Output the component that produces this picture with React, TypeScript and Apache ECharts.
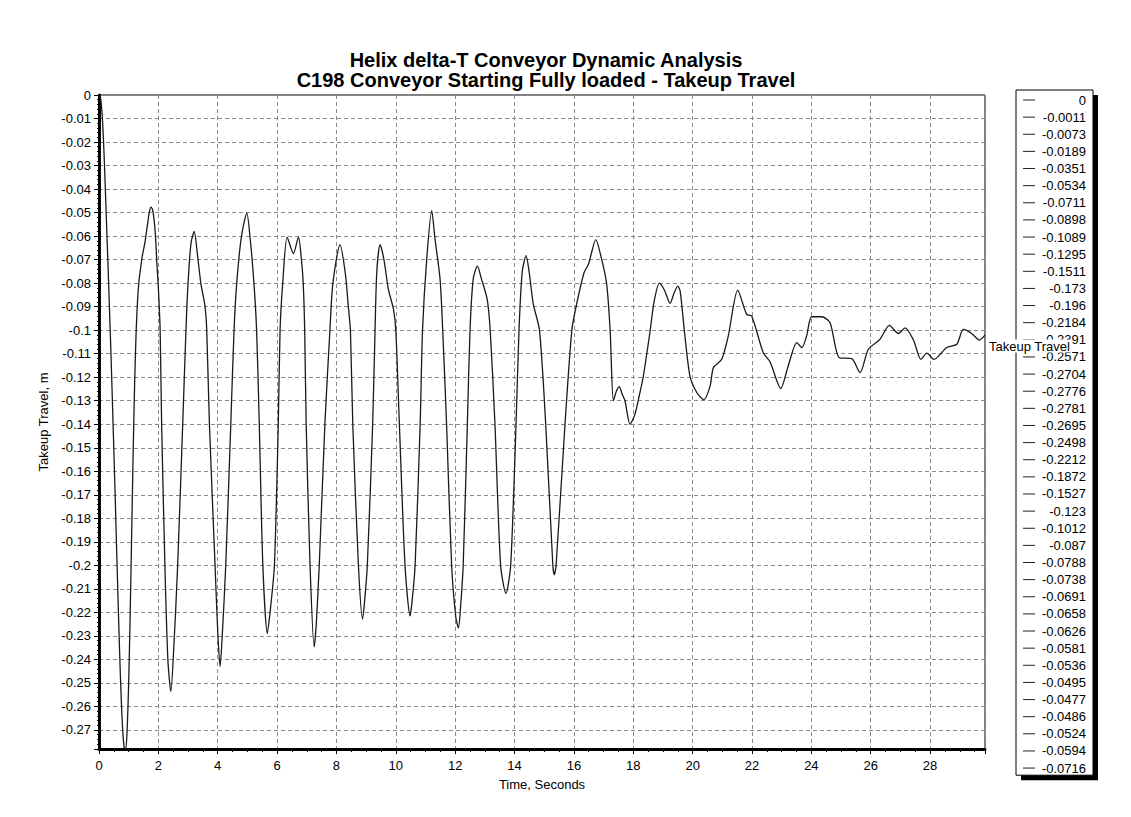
import { useEffect, useRef } from 'react';
import * as echarts from 'echarts';

const titleLines = [
  'Helix delta-T Conveyor Dynamic Analysis',
  'C198 Conveyor Starting Fully loaded - Takeup Travel',
];
const xAxisName = 'Time, Seconds';
const yAxisName = 'Takeup Travel, m';
const seriesName = 'Takeup Travel';

// first 40 samples (also listed in the legend box)
const headTimes = [
  0, 0.05, 0.1, 0.15, 0.2, 0.25, 0.3, 0.35, 0.4, 0.45,
  0.5, 0.55, 0.6, 0.65, 0.7, 0.75, 0.8, 0.85, 0.9, 0.95,
  1.0, 1.05, 1.1, 1.15, 1.2, 1.25, 1.3, 1.35, 1.4, 1.45,
  1.5, 1.55, 1.6, 1.65, 1.7, 1.75, 1.8, 1.85, 1.9, 1.95,
];
const headValues = [
  0, -0.0011, -0.0073, -0.0189, -0.0351, -0.0534, -0.0711, -0.0898, -0.1089, -0.1295,
  -0.1511, -0.173, -0.196, -0.2184, -0.2391, -0.2571, -0.2704, -0.2776, -0.2781, -0.2695,
  -0.2498, -0.2212, -0.1872, -0.1527, -0.123, -0.1012, -0.087, -0.0788, -0.0738, -0.0691,
  -0.0658, -0.0626, -0.0581, -0.0536, -0.0495, -0.0477, -0.0486, -0.0524, -0.0594, -0.0716,
];

// remaining curve: [time s, travel m]
const tailPoints: [number, number][] = [
  [2.0, -0.082], [2.06, -0.1], [2.11, -0.14], [2.22, -0.2], [2.32, -0.24], [2.42, -0.2537],
  [2.52, -0.235], [2.65, -0.2], [2.82, -0.14], [2.93, -0.1], [3.0, -0.08], [3.1, -0.063],
  [3.21, -0.058], [3.3, -0.066], [3.43, -0.08], [3.57, -0.0898], [3.63, -0.1], [3.72, -0.14],
  [3.91, -0.2], [4.0, -0.228], [4.08, -0.2431], [4.16, -0.228], [4.27, -0.2], [4.44, -0.14],
  [4.55, -0.1], [4.64, -0.08], [4.8, -0.06], [4.98, -0.0502], [5.1, -0.062], [5.22, -0.08],
  [5.31, -0.1], [5.4, -0.14], [5.52, -0.2], [5.67, -0.229], [5.78, -0.218], [5.91, -0.2],
  [6.04, -0.14], [6.1, -0.1], [6.19, -0.08], [6.34, -0.0604], [6.55, -0.0674], [6.72, -0.0604],
  [6.82, -0.07], [6.88, -0.08], [6.93, -0.1], [6.98, -0.14], [7.11, -0.2], [7.25, -0.2347],
  [7.32, -0.225], [7.42, -0.2], [7.61, -0.14], [7.78, -0.1], [7.88, -0.08], [8.12, -0.0636],
  [8.3, -0.076], [8.4, -0.09], [8.47, -0.1], [8.55, -0.14], [8.74, -0.2], [8.88, -0.2229],
  [8.95, -0.215], [9.04, -0.2], [9.22, -0.14], [9.3, -0.1], [9.36, -0.075], [9.47, -0.0636],
  [9.6, -0.07], [9.75, -0.0827], [9.92, -0.091], [10.0, -0.1], [10.12, -0.14], [10.31, -0.2],
  [10.48, -0.2215], [10.55, -0.215], [10.65, -0.2], [10.82, -0.14], [10.9, -0.1], [11.04, -0.07],
  [11.21, -0.0492], [11.32, -0.0612], [11.49, -0.0782], [11.58, -0.1], [11.71, -0.14], [11.88, -0.2],
  [12.02, -0.222], [12.11, -0.2266], [12.18, -0.218], [12.27, -0.2], [12.41, -0.14], [12.5, -0.1],
  [12.61, -0.078], [12.75, -0.0728], [12.88, -0.078], [13.08, -0.087], [13.18, -0.1], [13.34, -0.14],
  [13.53, -0.2], [13.71, -0.212], [13.87, -0.2], [14.05, -0.14], [14.15, -0.1], [14.26, -0.075],
  [14.39, -0.0683], [14.5, -0.076], [14.63, -0.0888], [14.84, -0.1], [15.05, -0.14], [15.29, -0.2],
  [15.34, -0.204], [15.4, -0.2], [15.7, -0.14], [15.93, -0.1], [16.09, -0.089], [16.34, -0.0756],
  [16.49, -0.072], [16.74, -0.0615], [16.9, -0.068], [17.1, -0.08], [17.22, -0.1], [17.33, -0.13],
  [17.43, -0.126], [17.53, -0.124], [17.62, -0.127], [17.72, -0.13], [17.89, -0.14], [18.05, -0.136],
  [18.2, -0.128], [18.34, -0.1195], [18.56, -0.101], [18.7, -0.088], [18.88, -0.08], [19.05, -0.083],
  [19.24, -0.0886], [19.38, -0.084], [19.5, -0.0813], [19.58, -0.0834], [19.74, -0.1025], [19.91, -0.1195],
  [20.14, -0.1265], [20.38, -0.1296], [20.59, -0.1237], [20.7, -0.1159], [20.98, -0.1124], [21.2, -0.1025],
  [21.52, -0.083], [21.82, -0.0933], [21.99, -0.094], [22.38, -0.1096], [22.61, -0.1135], [22.97, -0.1248],
  [23.22, -0.1152], [23.51, -0.1053], [23.68, -0.1074], [23.84, -0.1025], [24.01, -0.0943], [24.35, -0.0943],
  [24.63, -0.0968], [24.94, -0.1117], [25.36, -0.1121], [25.64, -0.118], [25.92, -0.1081], [26.31, -0.1039],
  [26.63, -0.098], [26.93, -0.1014], [27.16, -0.099], [27.44, -0.1042], [27.69, -0.1124], [27.89, -0.1098],
  [28.13, -0.1124], [28.56, -0.1074], [28.9, -0.106], [29.12, -0.0997], [29.4, -0.1014], [29.66, -0.1042],
  [29.85, -0.1021],
];

const X_MIN = 0;
const X_MAX = 29.85;
const X_INTERVAL = 2;
const Y_DEPTH_MAX = 0.2781; // deepest travel (axis bottom)
const Y_INTERVAL = 0.01;

const FONT = '"Liberation Sans", Arial, sans-serif';

export default function App() {
  const ref = useRef<HTMLDivElement>(null);

  useEffect(() => {
    document.body.style.margin = '0';
    if (!ref.current) return;
    const chart = echarts.init(ref.current, null, { renderer: 'svg' });

    const points: [number, number][] = [
      ...headTimes.map((t, i) => [t, headValues[i]] as [number, number]),
      ...tailPoints,
    ];
    // plotted as depth on an inverted axis so ticks start at 0
    const data = points.map(([t, v]) => [t, -v]);

    const legendTop = 90;
    const legendLeft = 1016;
    const legendW = 77;
    const rowH = 17.13;
    const legendH = headValues.length * rowH;

    const legendChildren: any[] = [
      { type: 'rect', shape: { x: legendLeft + 5, y: legendTop + 5, width: legendW, height: legendH }, style: { fill: '#000' }, z: 1 },
      { type: 'rect', shape: { x: legendLeft, y: legendTop, width: legendW, height: legendH }, style: { fill: '#fff', stroke: '#000', lineWidth: 1 }, z: 1 },
    ];
    headValues.forEach((v, i) => {
      const y = legendTop + 10 + i * rowH;
      legendChildren.push({
        type: 'line',
        shape: { x1: legendLeft + 7, y1: y, x2: legendLeft + 19, y2: y },
        style: { stroke: '#222', lineWidth: 1 },
        z: 1,
      });
      legendChildren.push({
        type: 'text',
        x: legendLeft + 70,
        y,
        style: { text: String(v), align: 'right', verticalAlign: 'middle', fontSize: 13, fontFamily: FONT, fill: '#000' },
        z: 1,
      });
    });

    chart.setOption({
      animation: false,
      backgroundColor: '#fff',
      title: {
        text: titleLines.join('\n'),
        left: 541,
        top: 45,
        textAlign: 'center',
        textStyle: { fontSize: 20, fontWeight: 'bold', fontFamily: FONT, color: '#000', lineHeight: 20 },
      },
      grid: {
        left: 99,
        right: 146,
        top: 95,
        bottom: 68,
        show: true,
        borderColor: '#000',
        borderWidth: 1,
        backgroundColor: '#fff',
      },
      xAxis: {
        type: 'value',
        min: X_MIN,
        max: X_MAX,
        interval: X_INTERVAL,
        name: xAxisName,
        nameLocation: 'middle',
        nameGap: 29,
        nameTextStyle: { fontSize: 13, fontFamily: FONT, color: '#000' },
        axisLine: { onZero: false, lineStyle: { color: '#000', width: 3 } },
        axisTick: { show: true, length: 5, lineStyle: { color: '#000' } },
        minorTick: { show: true, splitNumber: 4, length: 3, lineStyle: { color: '#000' } },
        axisLabel: { showMaxLabel: false, margin: 10, fontSize: 13, fontFamily: FONT, color: '#000' },
        splitLine: { show: true, lineStyle: { color: '#8a8a8a', type: [4, 3], width: 1 } },
      },
      yAxis: {
        type: 'value',
        inverse: true,
        min: 0,
        max: Y_DEPTH_MAX,
        interval: Y_INTERVAL,
        name: yAxisName,
        nameLocation: 'middle',
        nameGap: 40,
        nameTextStyle: { fontSize: 13, fontFamily: FONT, color: '#000' },
        axisLine: { show: true, lineStyle: { color: '#000', width: 3 } },
        axisTick: { show: true, length: 5, lineStyle: { color: '#000' } },
        minorTick: { show: true, splitNumber: 5, length: 2, lineStyle: { color: '#000' } },
        axisLabel: {
          showMaxLabel: false,
          margin: 8,
          fontSize: 13,
          fontFamily: FONT,
          color: '#000',
          formatter: (v: number) => (v === 0 ? '0' : '-' + String(+v.toFixed(2))),
        },
        splitLine: { show: true, lineStyle: { color: '#8a8a8a', type: [4, 3], width: 1 } },
      },
      graphic: [{ type: 'group', children: legendChildren, z: 1 }],
      series: [
        {
          name: seriesName,
          type: 'line',
          data,
          showSymbol: false,
          smooth: 0.25,
          z: 5,
          lineStyle: { color: '#1a1a1a', width: 1.3 },
          endLabel: {
            show: true,
            formatter: seriesName,
            distance: 3,
            offset: [0, 11],
            backgroundColor: '#fff',
            padding: [0, 1],
            fontSize: 13,
            fontFamily: FONT,
            color: '#000',
          },
        },
      ],
    });

    return () => chart.dispose();
  }, []);

  return <div ref={ref} style={{ width: 1131, height: 817 }} />;
}
